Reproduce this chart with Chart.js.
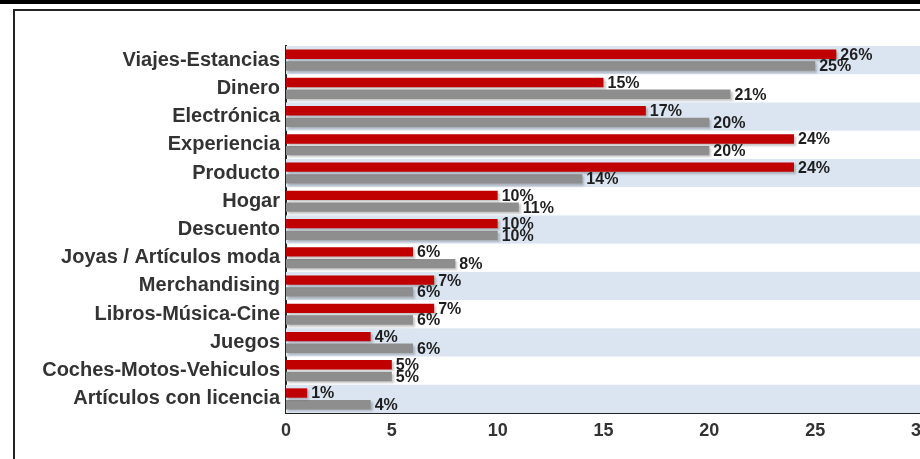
<!DOCTYPE html>
<html>
<head>
<meta charset="utf-8">
<script src="https://cdn.jsdelivr.net/npm/chart.js@4.4.1/dist/chart.umd.min.js"></script>
<style>
  html, body { margin: 0; padding: 0; width: 920px; height: 459px; overflow: hidden; background: #fff; }
  #topbar { position: absolute; left: 0; top: 0; width: 920px; height: 4px; background: #000; }
  #frame { position: absolute; left: 13px; top: 9px; width: 1000px; height: 600px; border: 2px solid #222; }
  #wrap { position: absolute; left: 0; top: 0; width: 980px; height: 459px; }
</style>
</head>
<body>
<div id="topbar"></div>
<div id="frame"></div>
<div id="wrap"><canvas id="regalosChart"></canvas></div>
<script>
// categories, top to bottom
const categorias = [
  'Viajes-Estancias', 'Dinero', 'Electrónica', 'Experiencia', 'Producto', 'Hogar',
  'Descuento', 'Joyas / Artículos moda', 'Merchandising', 'Libros-Música-Cine',
  'Juegos', 'Coches-Motos-Vehiculos', 'Artículos con licencia'
];
// red series
const serieRoja = [26, 15, 17, 24, 24, 10, 10, 6, 7, 7, 4, 5, 1];
// grey series
const serieGris = [25, 21, 20, 20, 14, 11, 10, 8, 6, 6, 6, 5, 4];
const ticksX = [0, 5, 10, 15, 20, 25, 30];

// alternating light blue bands behind every other category
const bandPlugin = {
  id: 'bands',
  beforeDatasetsDraw(chart) {
    const { ctx, chartArea, scales: { y } } = chart;
    ctx.save();
    ctx.fillStyle = '#dbe5f1';
    categorias.forEach((c, i) => {
      if (i % 2 !== 0) return;
      const mid = y.getPixelForValue(i);
      const half = (chartArea.bottom - chartArea.top) / categorias.length / 2;
      ctx.fillRect(chartArea.left, mid - half, chartArea.right - chartArea.left, half * 2);
    });
    ctx.restore();
  }
};

// soft shadow under bars
const shadowPlugin = {
  id: 'barShadow',
  beforeDatasetsDraw(chart) {
    const ctx = chart.ctx;
    ctx.save();
    ctx.shadowColor = 'rgba(0,0,0,0.22)';
    ctx.shadowOffsetX = 2;
    ctx.shadowOffsetY = 2;
    ctx.shadowBlur = 2;
  },
  afterDatasetsDraw(chart) {
    chart.ctx.restore();
  }
};

// value labels right of each bar
const labelPlugin = {
  id: 'valueLabels',
  afterDatasetsDraw(chart) {
    const ctx = chart.ctx;
    ctx.save();
    ctx.font = 'bold 16px "Liberation Sans", Arial, sans-serif';
    ctx.fillStyle = '#1e1e1e';
    ctx.textAlign = 'left';
    ctx.textBaseline = 'middle';
    chart.data.datasets.forEach((ds, di) => {
      chart.getDatasetMeta(di).data.forEach((bar, i) => {
        ctx.fillText(ds.data[i] + '%', bar.x + 4, bar.y + 1);
      });
    });
    ctx.restore();
  }
};

const ctx = document.getElementById('regalosChart').getContext('2d');
new Chart(ctx, {
  type: 'bar',
  data: {
    labels: categorias,
    datasets: [
      {
        label: 'Serie 1',
        data: serieRoja,
        backgroundColor: '#c00000',
        categoryPercentage: 0.83,
        barPercentage: 0.8
      },
      {
        label: 'Serie 2',
        data: serieGris,
        backgroundColor: '#8e8e8e',
        categoryPercentage: 0.83,
        barPercentage: 0.8
      }
    ]
  },
  options: {
    indexAxis: 'y',
    responsive: true,
    maintainAspectRatio: false,
    animation: false,
    layout: {
      padding: { left: 0, top: 46, right: 59, bottom: 0 }
    },
    scales: {
      x: {
        min: 0,
        max: 30,
        afterBuildTicks(scale) {
          scale.ticks = ticksX.map(v => ({ value: v }));
        },
        afterFit(scale) {
          scale.height = 46;
        },
        grid: { display: false, drawTicks: false },
        border: { display: true, color: '#222', width: 2 },
        ticks: {
          padding: 7,
          color: '#333',
          font: { family: '"Liberation Sans", Arial, sans-serif', size: 18, weight: 'bold' }
        }
      },
      y: {
        afterFit(scale) {
          scale.width = 286;
        },
        grid: { display: false, drawTicks: false },
        border: { display: true, color: '#222', width: 2 },
        ticks: {
          padding: 6,
          color: '#333',
          font: { family: '"Liberation Sans", Arial, sans-serif', size: 20, weight: 'bold' }
        }
      }
    },
    plugins: {
      legend: { display: false },
      tooltip: { enabled: false }
    }
  },
  plugins: [bandPlugin, shadowPlugin, labelPlugin]
});
</script>
</body>
</html>
